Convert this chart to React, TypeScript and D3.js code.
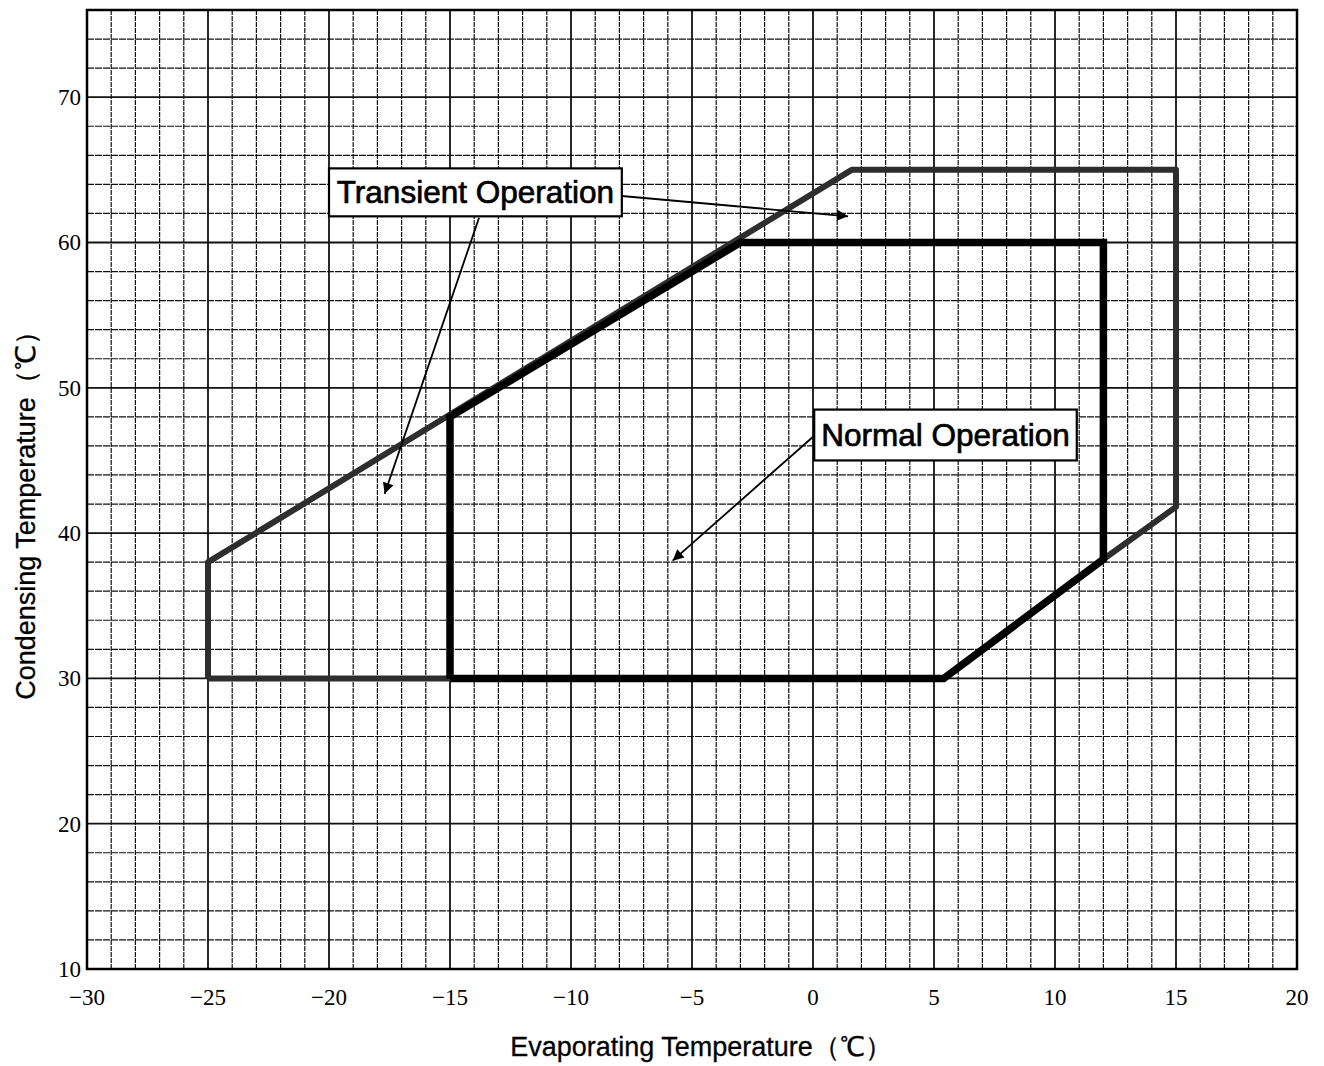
import * as d3 from "d3";
import React, { useRef, useEffect } from "react";

// axis ticks
const xTicks = [-30, -25, -20, -15, -10, -5, 0, 5, 10, 15, 20];
const yTicks = [10, 20, 30, 40, 50, 60, 70];

// operating envelopes (evaporating, condensing)
const transientX = [-25, -25, 1.6, 15, 15, 12, 5.4, -25];
const transientY = [30, 38, 65, 65, 41.8, 38.2, 30, 30];
const normalX = [-15, -15, -3, 12, 12, 5.4, -15];
const normalY = [30, 48, 60, 60, 38.2, 30, 30];

// callouts: box corners + arrows
const labels = ["Transient Operation", "Normal Operation"];
const boxX0 = [-20, 0.05];
const boxX1 = [-7.9, 10.9];
const boxY0 = [65.1, 48.5];
const boxY1 = [61.8, 45.0];
const arrowFromX = [-7.9, -13.8, 0.05];
const arrowFromY = [63.2, 61.7, 46.7];
const arrowToX = [1.45, -17.7, -5.8];
const arrowToY = [61.8, 42.7, 38.1];

const App = () => {
  const svgRef = useRef(null);
  const w = 1324;
  const h = 1066;

  useEffect(() => {
    const x = d3.scaleLinear().domain([-30, 20]).range([87, 1297]);
    const y = d3.scaleLinear().domain([10, 76]).range([969, 10]);

    const svg = d3.select(svgRef.current);
    svg.selectAll("*").remove();

    svg.append("rect").attr("width", w).attr("height", h).attr("fill", "#fff");

    const defs = svg.append("defs");
    defs.append("marker")
      .attr("id", "arr")
      .attr("viewBox", "0 0 10 10")
      .attr("refX", 10).attr("refY", 5)
      .attr("markerWidth", 16).attr("markerHeight", 11)
      .attr("markerUnits", "userSpaceOnUse")
      .attr("orient", "auto")
      .append("path").attr("d", "M0,0 L10,5 L0,10 z").attr("fill", "#000");

    // grid
    const g = svg.append("g");
    g.selectAll(".vx")
      .data(d3.range(-30, 21, 1))
      .enter().append("line")
      .attr("x1", d => x(d)).attr("x2", d => x(d))
      .attr("y1", y(10)).attr("y2", y(76))
      .attr("stroke", "#111")
      .attr("stroke-width", d => d % 5 === 0 ? 1.8 : 1.2)
      .attr("stroke-dasharray", d => d % 5 === 0 ? null : "5,1");
    g.selectAll(".hy")
      .data(d3.range(10, 77, 2))
      .enter().append("line")
      .attr("y1", d => y(d)).attr("y2", d => y(d))
      .attr("x1", x(-30)).attr("x2", x(20))
      .attr("stroke", "#111")
      .attr("stroke-width", d => d % 10 === 0 ? 1.8 : 1.2)
      .attr("stroke-dasharray", d => d % 10 === 0 ? null : "7,1");

    // frame
    g.append("rect")
      .attr("x", x(-30)).attr("y", y(76))
      .attr("width", x(20) - x(-30)).attr("height", y(10) - y(76))
      .attr("fill", "none").attr("stroke", "#000").attr("stroke-width", 2.5);

    // tick labels
    g.selectAll(".xt")
      .data(xTicks)
      .enter().append("text")
      .attr("x", d => x(d)).attr("y", 1005)
      .attr("text-anchor", "middle")
      .attr("font-family", "Liberation Serif, serif")
      .attr("font-size", 23)
      .text(d => (d < 0 ? "\u2212" + Math.abs(d) : d));
    g.selectAll(".yt")
      .data(yTicks)
      .enter().append("text")
      .attr("x", 81).attr("y", d => y(d) + 8)
      .attr("text-anchor", "end")
      .attr("font-family", "Liberation Serif, serif")
      .attr("font-size", 23)
      .text(d => d);

    // envelopes
    const line = d3.line<number>()
      .x(i => x(i[0]))
      .y(i => y(i[1]))
      .curve(d3.curveLinear);
    const tPts = transientX.map((v, i) => [v, transientY[i]]);
    const nPts = normalX.map((v, i) => [v, normalY[i]]);
    svg.append("path")
      .attr("d", line(tPts as any))
      .attr("fill", "none").attr("stroke", "#2e2e2e")
      .attr("stroke-width", 6).attr("stroke-linejoin", "round");
    svg.append("path")
      .attr("d", line(nPts as any))
      .attr("fill", "none").attr("stroke", "#000")
      .attr("stroke-width", 7.5).attr("stroke-linejoin", "miter");

    // arrows
    svg.selectAll(".arrow")
      .data(arrowFromX)
      .enter().append("line")
      .attr("x1", (d, i) => x(d)).attr("y1", (d, i) => y(arrowFromY[i]))
      .attr("x2", (d, i) => x(arrowToX[i])).attr("y2", (d, i) => y(arrowToY[i]))
      .attr("stroke", "#000").attr("stroke-width", 1.8)
      .attr("marker-end", "url(#arr)");

    // callout boxes
    const boxes = svg.selectAll(".box").data(labels).enter().append("g");
    boxes.append("rect")
      .attr("x", (d, i) => x(boxX0[i])).attr("y", (d, i) => y(boxY0[i]))
      .attr("width", (d, i) => x(boxX1[i]) - x(boxX0[i]))
      .attr("height", (d, i) => y(boxY1[i]) - y(boxY0[i]))
      .attr("fill", "#fff").attr("stroke", "#000").attr("stroke-width", 2.2);
    boxes.append("text")
      .attr("x", (d, i) => (x(boxX0[i]) + x(boxX1[i])) / 2)
      .attr("y", (d, i) => (y(boxY0[i]) + y(boxY1[i])) / 2 + 11)
      .attr("text-anchor", "middle")
      .attr("font-family", "Liberation Sans, Arial, sans-serif")
      .attr("font-size", 31.5)
      .attr("stroke", "#000").attr("stroke-width", 0.7)
      .text(d => d);

    // axis titles
    svg.append("text")
      .attr("x", 701).attr("y", 1056)
      .attr("text-anchor", "middle")
      .attr("font-family", "Liberation Sans, Arial, sans-serif")
      .attr("font-size", 27)
      .attr("stroke", "#000").attr("stroke-width", 0.3)
      .text("Evaporating Temperature（℃）");
    svg.append("text")
      .attr("transform", "translate(35,509) rotate(-90)")
      .attr("text-anchor", "middle")
      .attr("font-family", "Liberation Sans, Arial, sans-serif")
      .attr("font-size", 27)
      .attr("stroke", "#000").attr("stroke-width", 0.3)
      .text("Condensing Temperature（℃）");
  });

  return (
    <svg
      ref={svgRef}
      width={w}
      height={h}
      style={{ position: "absolute", left: 0, top: 0 }}
    />
  );
};

export default App;
